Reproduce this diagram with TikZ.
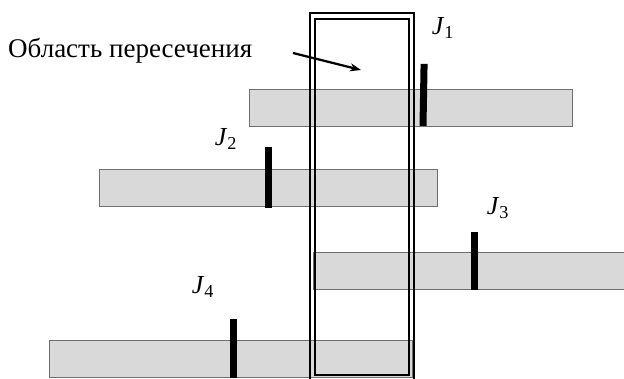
\documentclass[tikz,border=0pt]{standalone}
\usepackage{fontspec}
\setmainfont{Liberation Serif}
\usetikzlibrary{arrows.meta,positioning}
\definecolor{cBar}{HTML}{D9D9D9}
\definecolor{cEdge}{HTML}{6E6E6E}
\tikzset{
  bar/.style={draw=cEdge, line width=0.8pt, fill=cBar, anchor=north west,
              inner sep=0pt, minimum height=37pt, minimum width=#1},
  jtick/.style={fill=black, inner sep=0pt, minimum width=7pt, minimum height=#1, anchor=south},
  jlabel/.style={font=\fontsize{26}{28}\selectfont, inner sep=0pt},
  pointer/.style={-{Stealth[length=11pt,width=8pt]}, line width=2.2pt},
}
\begin{document}
\begin{tikzpicture}[x=1pt,y=-1pt]
\useasboundingbox (0,0) rectangle (624,378);
% bars
\node[bar=323pt] (bar1) at (249,89) {};
\node[bar=338pt] (bar2) at (99,169) {};
\node[bar=320pt] (bar3) at (313,252) {};
\node[bar=363pt] (bar4) at (49,340) {};
% intersection zone (double frame)
\draw[line width=1.1pt] (310,13) rectangle (414,382);
\draw[line width=2pt] (315,19) rectangle (409,375);
% ticks and labels
\node[jtick=62pt, rotate=-1] (t1) at (423,126) {};
\node[jtick=61pt] (t2) at (268,208) {};
\node[jtick=58pt] (t3) at (474,290) {};
\node[jtick=59pt] (t4) at (233,378) {};
\node[jlabel] (j1) at (443,28) {\textit{J}\textsubscript{1}};
\node[jlabel] (j2) at (226,139) {\textit{J}\textsubscript{2}};
\node[jlabel] (j3) at (498,208) {\textit{J}\textsubscript{3}};
\node[jlabel] (j4) at (203,287) {\textit{J}\textsubscript{4}};
% caption and arrow
\node[jlabel, font=\fontsize{27}{29}\selectfont, anchor=base west] (zone) at (8,57) {Область пересечения};
\coordinate (from) at (293,53);
\coordinate (to) at (361,70);
\draw[pointer] (from) -- (to);
\end{tikzpicture}
\end{document}
